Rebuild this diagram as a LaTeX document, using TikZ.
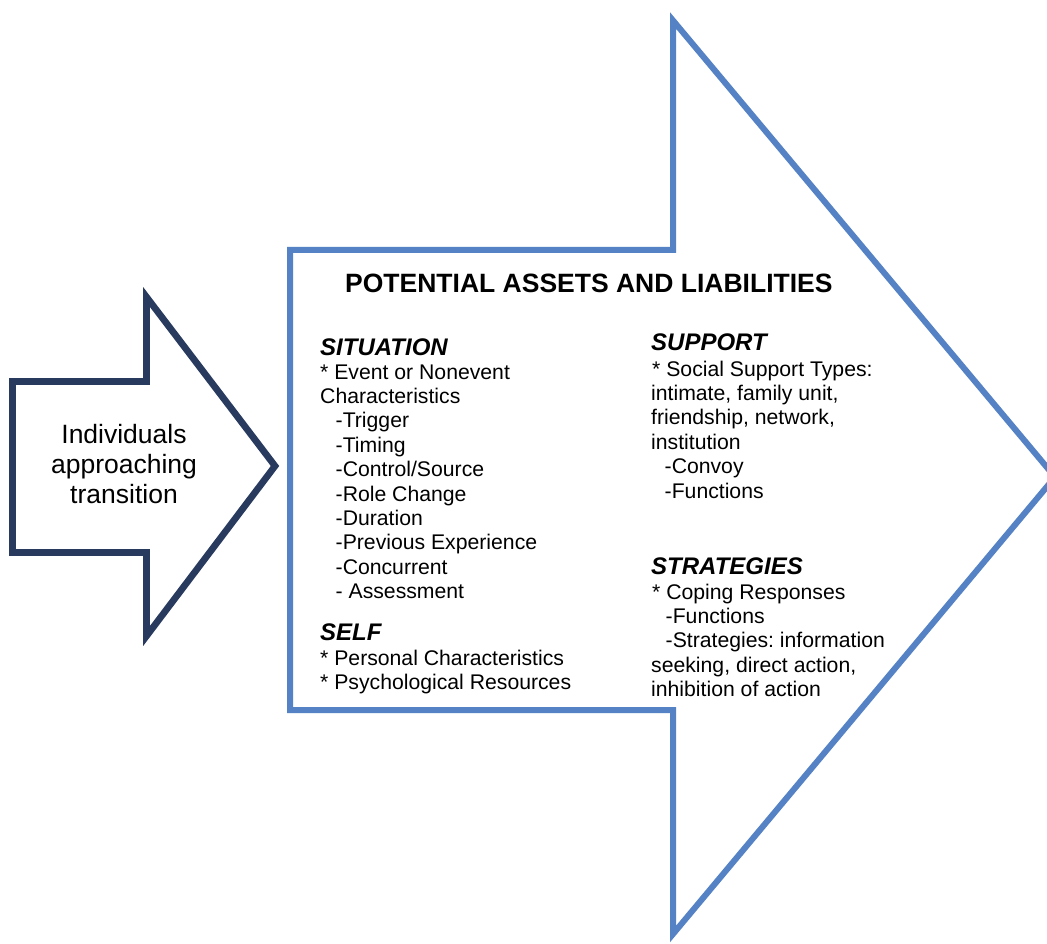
\documentclass[tikz,border=0pt]{standalone}
\usepackage{fontspec}
\setmainfont{Liberation Sans}
\frenchspacing
\definecolor{arrowblue}{RGB}{84,130,196}
\definecolor{arrownavy}{RGB}{40,58,94}
\begin{document}
\begin{tikzpicture}[x=1pt,y=-1pt,
  bigarrow/.style={draw=arrowblue,line width=6pt,miter limit=10},
  smallarrow/.style={draw=arrownavy,line width=6.7pt,miter limit=10},
  bodytext/.style={inner sep=0pt,anchor=base west,font=\fontsize{21.2}{24.4}\selectfont},
  headtext/.style={inner sep=0pt,anchor=base west,font=\fontsize{24}{28}\selectfont\bfseries\itshape},
  titletext/.style={inner sep=0pt,anchor=base west,font=\fontsize{26.5}{30}\selectfont\bfseries},
  lefttext/.style={inner sep=0pt,anchor=base,font=\fontsize{26.5}{30}\selectfont}]

\useasboundingbox (0,0) rectangle (1047,944);
\fill[white] (0,0) rectangle (1047,944);

% large arrow holding the assets and liabilities
\draw[bigarrow] (290,250) -- (673,250) -- (673,20.5) -- (1055,477)
  -- (673,934) -- (673,710) -- (290,710) -- cycle;

% small arrow on the left
\draw[smallarrow] (12.5,381.5) -- (146.5,381.5) -- (146.5,297) -- (275,466)
  -- (146.5,636) -- (146.5,552.5) -- (12.5,552.5) -- cycle;

\node[lefttext] (individuals) at (124,443)
  {\vtop{\halign{\hfil#\hfil\cr Individuals\cr approaching\cr transition\cr}}};

\node[titletext] (title) at (345,292) {POTENTIAL ASSETS AND LIABILITIES};

% left column
\node[headtext] (situation) at (320,355) {SITUATION};
\node[bodytext] (situationlist) at (320,379) {\vtop{%
  \hbox{* Event or Nonevent}
  \hbox{Characteristics}
  \hbox{\hskip15.5pt-Trigger}
  \hbox{\hskip15.5pt-Timing}
  \hbox{\hskip15.5pt-Control/Source}
  \hbox{\hskip15.5pt-Role Change}
  \hbox{\hskip15.5pt-Duration}
  \hbox{\hskip15.5pt-Previous Experience}
  \hbox{\hskip15.5pt-Concurrent}
  \hbox{\hskip15.5pt- Assessment}}};

\node[headtext] (self) at (320,640) {SELF};
\node[bodytext] (selflist) at (320,665) {\vtop{%
  \hbox{* Personal Characteristics}
  \hbox{* Psychological Resources}}};

% right column
\node[headtext] (support) at (651,350) {SUPPORT};
\node[bodytext] (supportlist) at (651,376) {\vtop{%
  \hbox{\hskip1pt* Social Support Types:}
  \hbox{intimate, family unit,}
  \hbox{friendship, network,}
  \hbox{institution}
  \hbox{\hskip13.5pt-Convoy}
  \hbox{\hskip13.5pt-Functions}}};

\node[headtext] (strategies) at (651,574) {STRATEGIES};
\node[bodytext] (strategieslist) at (651,599) {\vtop{%
  \hbox{\hskip1pt* Coping Responses}
  \hbox{\hskip14.5pt-Functions}
  \hbox{\hskip14.5pt-Strategies: information}
  \hbox{seeking, direct action,}
  \hbox{inhibition of action}}};
\end{tikzpicture}
\end{document}
